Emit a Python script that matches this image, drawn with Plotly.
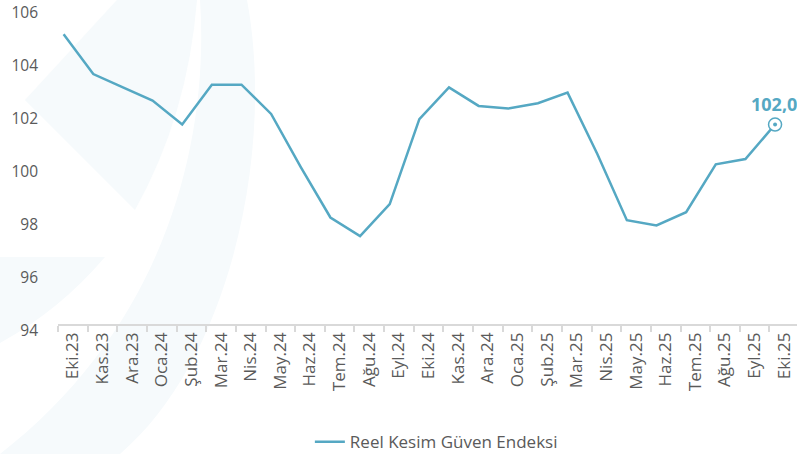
import plotly.graph_objects as go

months = ["Eki.23", "Kas.23", "Ara.23", "Oca.24", "Şub.24", "Mar.24", "Nis.24", "May.24",
          "Haz.24", "Tem.24", "Ağu.24", "Eyl.24", "Eki.24", "Kas.24", "Ara.24", "Oca.25",
          "Şub.25", "Mar.25", "Nis.25", "May.25", "Haz.25", "Tem.25", "Ağu.25", "Eyl.25", "Eki.25"]
rkge = [105.4, 103.9, 103.4, 102.9, 102.0, 103.5, 103.5, 102.4, 100.4, 98.5, 97.8, 99.0,
        102.2, 103.4, 102.7, 102.6, 102.8, 103.2, 100.9, 98.4, 98.2, 98.7, 100.5, 100.7, 102.0]
y_ticks = [94, 96, 98, 100, 102, 104, 106]
series_name = "Reel Kesim Güven Endeksi"
last_label = "102,0"

LINE = "#55a8c3"
TXT = "#5a5a5a"
WM = "#f6fafc"
FONT = "'Open Sans', sans-serif"

W, H = 797, 454
ML, MR, MT, MB = 58, 0, 5, 117

idx = list(range(len(months)))
point_offset = -0.31
xs = [i + point_offset for i in idx]


def px(x, y):
    # pixel -> plot-area paper coordinates (for the faint background watermark)
    return (x - ML) / (W - ML - MR), (H - MB - y) / (H - MT - MB)


def path(cmds):
    out = []
    for c, pts in cmds:
        coords = " ".join("%.4f,%.4f" % px(*p) for p in pts)
        out.append(c + " " + coords if coords else c)
    return " ".join(out)


watermark = [
    path([("M", [(25, 100)]), ("L", [(117, 0)]), ("L", [(197, 0)]),
          ("Q", [(188, 115), (135, 210)]), ("Z", [])]),
    path([("M", [(200, 0)]), ("C", [(210, 150), (160, 330), (0, 454)]), ("L", [(120, 454)]),
          ("C", [(230, 360), (275, 150), (247, 0)]), ("Z", [])]),
    path([("M", [(0, 257)]), ("L", [(105, 257)]), ("Q", [(60, 310), (0, 343)]), ("Z", [])]),
]

fig = go.Figure()
fig.add_trace(go.Scatter(
    x=xs, y=rkge, mode="lines", name=series_name,
    line=dict(color=LINE, width=2.5),
    hoverinfo="skip",
))
fig.add_trace(go.Scatter(
    x=[xs[-1]], y=[rkge[-1]], mode="markers", showlegend=False,
    marker=dict(symbol="circle", size=13, color="white",
                line=dict(color=LINE, width=1.5)),
    hoverinfo="skip",
))
fig.add_trace(go.Scatter(
    x=[xs[-1]], y=[rkge[-1]], mode="markers", showlegend=False,
    marker=dict(symbol="circle", size=4, color=LINE),
    hoverinfo="skip",
))
fig.add_annotation(
    x=xs[-1], y=rkge[-1], text="<b>" + last_label + "</b>", showarrow=False,
    yshift=21, xshift=-1, font=dict(family=FONT, size=18, color=LINE),
)
for d in watermark:
    fig.add_shape(type="path", path=d, xref="paper", yref="paper",
                  fillcolor=WM, line=dict(width=0), layer="below")

fig.update_layout(
    width=W, height=H,
    margin=dict(l=ML, r=MR, t=MT, b=MB),
    paper_bgcolor="white", plot_bgcolor="rgba(0,0,0,0)",
    font=dict(family=FONT, size=16, color=TXT),
    showlegend=True,
    legend=dict(orientation="h", x=0.512, xanchor="center", y=0.026, yanchor="middle",
                yref="container", font=dict(size=17, color=TXT)),
    xaxis=dict(
        range=[-0.5, 24.43], anchor="free", position=0.036,
        tickmode="array", tickvals=idx, ticktext=months, tickangle=-90,
        ticks="", showgrid=False, zeroline=False,
        showline=True, linecolor="#d9d9d9", linewidth=1.5,
        tickfont=dict(size=17, color=TXT),
        minor=dict(tickmode="array", tickvals=[i - 0.5 for i in idx], ticks="outside",
                   ticklen=6, tickcolor="#d9d9d9", tickwidth=1.5, showgrid=False),
        fixedrange=True,
    ),
    yaxis=dict(
        range=[94, 106.5], tickmode="array", tickvals=y_ticks,
        showgrid=False, zeroline=False, showline=False, ticks="",
        ticklabelshift=-6, ticklabelstandoff=19,
        tickfont=dict(size=15.5, color=TXT),
        fixedrange=True,
    ),
)

fig.write_html("out.html", config={"displayModeBar": False},
               post_script="document.body.style.margin='0';")
